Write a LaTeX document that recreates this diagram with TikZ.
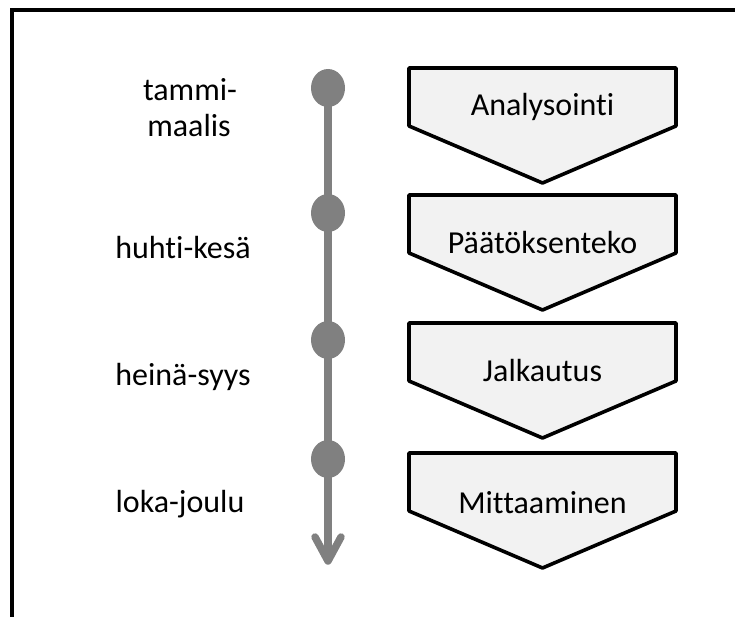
\documentclass[tikz,border=0pt]{standalone}
\usepackage{fontspec}
\setmainfont{Carlito}[Ligatures={NoCommon}]
\usetikzlibrary{shapes.geometric}
\definecolor{tlgray}{HTML}{808080}
\definecolor{boxfill}{HTML}{F2F2F2}
\begin{document}
\begin{tikzpicture}[x=0.75pt,y=-0.75pt,
  frame/.style={line width=2.3pt, black},
  tl/.style={line width=5.6pt, draw=tlgray},
  dot/.style={ellipse, fill=tlgray, minimum width=25.5pt, minimum height=28.5pt, inner sep=0pt},
  phase/.style={draw=black, fill=boxfill, line width=2.7pt, line join=round},
  lbl/.style={font=\fontsize{24}{28.5}\selectfont, inner sep=0pt, anchor=base},
]
\useasboundingbox (0,0) rectangle (735,617);
\draw[frame] (12,617) -- (12,10) -- (735,10);

% phase boxes
\foreach \t in {68,195,323,453}{
  \draw[phase] (409,\t) -- (676,\t) -- (676,\t+58) -- (542.5,\t+115) -- (409,\t+58) -- cycle;
}
\node[lbl] (p1) at (542.5,115) {Analysointi};
\node[lbl] (p2) at (542.5,253) {Päätöksenteko};
\node[lbl] (p3) at (542.5,381) {Jalkautus};
\node[lbl] (p4) at (542.5,513) {Mittaaminen};

% timeline
\coordinate (top) at (328,88);
\coordinate (tip) at (328,561);
\coordinate (armL) at (315,537);
\coordinate (armR) at (341,537);
\draw[tl] (top) -- (tip);
\draw[tl, line cap=round, line join=round] (armL) -- (tip) -- (armR);
\node[dot] (d1) at (328,88) {};
\node[dot] (d2) at (328,213) {};
\node[dot] (d3) at (328,340) {};
\node[dot] (d4) at (328,459) {};

% month labels
\node[lbl] (m1a) at (190,100) {tammi-};
\node[lbl] (m1b) at (189,137) {maalis};
\node[lbl] (m2) at (183,258) {huhti-kesä};
\node[lbl] (m3) at (183,385) {heinä-syys};
\node[lbl] (m4) at (180,512) {loka-joulu};
\end{tikzpicture}
\end{document}
